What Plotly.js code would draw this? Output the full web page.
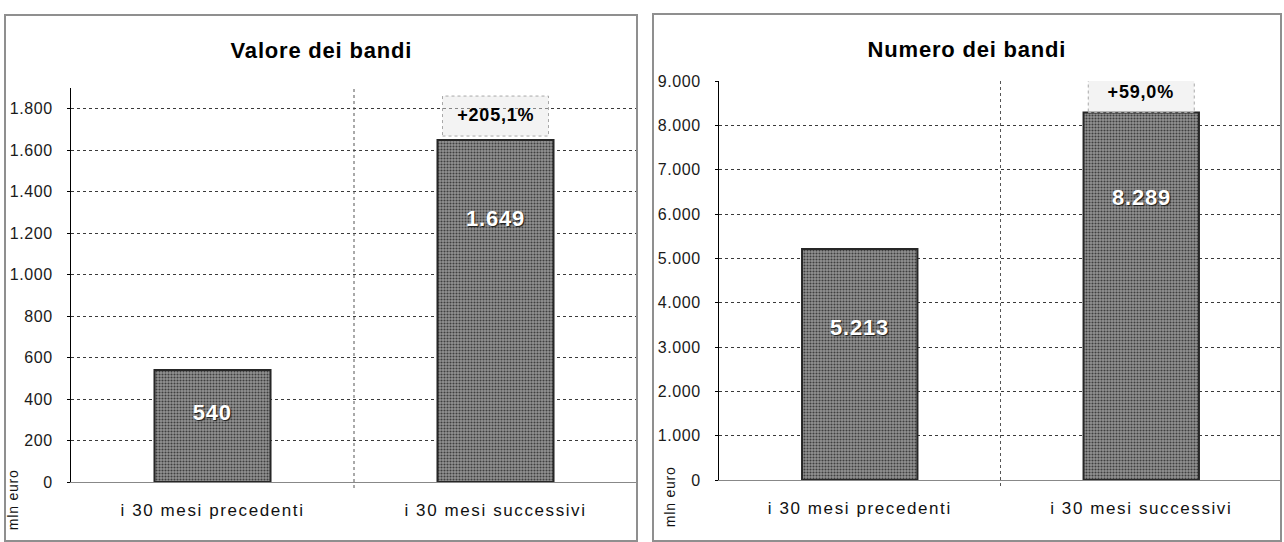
<!DOCTYPE html>
<html>
<head>
<meta charset="utf-8">
<script src="https://cdn.plot.ly/plotly-3.0.1.min.js"></script>
<style>
  html, body { margin: 0; padding: 0; background: #ffffff; }
  #chart { width: 1284px; height: 542px; }
  #chart .xtick text, #chart .x2tick text { letter-spacing: 1.6px; }
  #chart .ytick text, #chart .y2tick text { letter-spacing: 0.6px; }
  #chart .annotation-text { letter-spacing: 0.8px; }
</style>
</head>
<body>
<div id="chart"></div>
<script>
// ---- data ----
const categories = ['i 30 mesi precedenti', 'i 30 mesi successivi'];
const valoreValues = [540, 1649];          // mln euro
const numeroValues = [5213, 8289];         // numero bandi
const valoreChange = '+205,1%';
const numeroChange = '+59,0%';
const valoreTicks = [0, 200, 400, 600, 800, 1000, 1200, 1400, 1600, 1800];
const numeroTicks = [0, 1000, 2000, 3000, 4000, 5000, 6000, 7000, 8000, 9000];
const panelTitles = ['Valore dei bandi', 'Numero dei bandi'];
const unitLabel = 'mln euro';

// ---- layout helpers ----
const W = 1284, H = 542;
const px = v => v / W;
const py = v => 1 - v / H;
const fmt = v => Math.round(v).toString().replace(/\B(?=(\d{3})+(?!\d))/g, '.');
const FONT = 'Arial, Liberation Sans, sans-serif';

const barMarker = {
  color: '#858585',
  pattern: { shape: '.', fgcolor: '#3f3f3f', bgcolor: '#939393', size: 3, solidity: 0.4, fillmode: 'replace' },
  line: { color: '#262626', width: 2 }
};

const traces = [
  { type: 'bar', x: categories, y: valoreValues, width: 0.41, marker: barMarker,
    xaxis: 'x', yaxis: 'y', hoverinfo: 'x+y', showlegend: false },
  { type: 'bar', x: categories, y: numeroValues, width: 0.41, marker: barMarker,
    xaxis: 'x2', yaxis: 'y2', hoverinfo: 'x+y', showlegend: false }
];

const yCommon = {
  showline: true, linecolor: '#000', linewidth: 1,
  ticks: 'outside', ticklen: 3, tickcolor: '#000',
  showgrid: true, gridcolor: '#3a3a3a', griddash: 'dot', gridwidth: 1,
  zeroline: false,
  tickfont: { family: FONT, size: 16, color: '#1a1a1a' },
  ticklabelstandoff: 11,
  fixedrange: true
};
const xCommon = {
  type: 'category', range: [-0.5, 1.5],
  showline: true, linecolor: '#888', linewidth: 1,
  showgrid: false, ticks: '', zeroline: false,
  tickfont: { family: FONT, size: 17, color: '#111' },
  ticklabelstandoff: 13,
  fixedrange: true
};

// percent-change box (pixel-sized, anchored at bar top)
const boxShape = (xr, yr, xa, ya, y0, y1) => ({
  type: 'rect', xref: xr, yref: yr, xsizemode: 'pixel', ysizemode: 'pixel',
  xanchor: xa, yanchor: ya, x0: -53, x1: 53, y0: y0, y1: y1,
  fillcolor: 'rgba(228,228,228,0.45)', line: { color: '#a8a8a8', width: 1, dash: 'dot' }, layer: 'above'
});

const layout = {
  width: W, height: H,
  margin: { l: 0, r: 0, t: 0, b: 0 },
  paper_bgcolor: '#ffffff', plot_bgcolor: 'rgba(0,0,0,0)',
  separators: ',.',
  xaxis: Object.assign({}, xCommon, { domain: [px(71), px(637)], anchor: 'y' }),
  yaxis: Object.assign({}, yCommon, { domain: [py(482), py(88)], range: [0, 1900], anchor: 'x',
    tickvals: valoreTicks, ticktext: valoreTicks.map(fmt) }),
  xaxis2: Object.assign({}, xCommon, { domain: [px(719), px(1282)], anchor: 'y2' }),
  yaxis2: Object.assign({}, yCommon, { domain: [py(480), py(81)], range: [0, 9000], anchor: 'x2',
    tickvals: numeroTicks, ticktext: numeroTicks.map(fmt) }),
  shapes: [
    // panel frames
    { type: 'rect', xref: 'paper', yref: 'paper', x0: px(5), x1: px(637), y0: py(541), y1: py(15),
      line: { color: '#8f8f8f', width: 2 } },
    { type: 'rect', xref: 'paper', yref: 'paper', x0: px(653), x1: px(1281), y0: py(541), y1: py(14),
      line: { color: '#8f8f8f', width: 2 } },
    // dotted category separators
    { type: 'line', xref: 'x', yref: 'paper', x0: 0.5, x1: 0.5, y0: py(488), y1: py(88),
      line: { color: '#555', width: 1, dash: 'dot' } },
    { type: 'line', xref: 'x2', yref: 'paper', x0: 0.5, x1: 0.5, y0: py(486), y1: py(81),
      line: { color: '#555', width: 1, dash: 'dot' } },
    boxShape('x', 'y', 1, valoreValues[1], 4, 44),
    boxShape('x2', 'y2', 1, numeroValues[1], 0, 40)
  ],
  annotations: [
    { xref: 'paper', yref: 'paper', x: px(321), y: py(51), xanchor: 'center', yanchor: 'middle',
      text: '<b>' + panelTitles[0] + '</b>',
      showarrow: false, font: { family: FONT, size: 22, color: '#000' } },
    { xref: 'paper', yref: 'paper', x: px(967), y: py(49), xanchor: 'center', yanchor: 'middle',
      text: '<b>' + panelTitles[1] + '</b>',
      showarrow: false, font: { family: FONT, size: 22, color: '#000' } },
    { xref: 'paper', yref: 'paper', x: px(13), y: py(500), xanchor: 'center', yanchor: 'middle',
      text: unitLabel, textangle: -90,
      showarrow: false, font: { family: FONT, size: 14, color: '#111' } },
    { xref: 'paper', yref: 'paper', x: px(670), y: py(497), xanchor: 'center', yanchor: 'middle',
      text: unitLabel, textangle: -90,
      showarrow: false, font: { family: FONT, size: 14, color: '#111' } },
    // value labels inside bars
    { xref: 'x', yref: 'y', x: categories[0], y: valoreValues[0] * 0.62, xanchor: 'center',
      text: '<b>' + fmt(valoreValues[0]) + '</b>',
      showarrow: false, font: { family: FONT, size: 22, color: '#fff', shadow: '1px 1px 1px #1a1a1a' } },
    { xref: 'x', yref: 'y', x: categories[1], y: valoreValues[1] * 0.77, xanchor: 'center',
      text: '<b>' + fmt(valoreValues[1]) + '</b>',
      showarrow: false, font: { family: FONT, size: 22, color: '#fff', shadow: '1px 1px 1px #1a1a1a' } },
    { xref: 'x2', yref: 'y2', x: categories[0], y: numeroValues[0] * 0.66, xanchor: 'center',
      text: '<b>' + fmt(numeroValues[0]) + '</b>',
      showarrow: false, font: { family: FONT, size: 22, color: '#fff', shadow: '1px 1px 1px #1a1a1a' } },
    { xref: 'x2', yref: 'y2', x: categories[1], y: numeroValues[1] * 0.77, xanchor: 'center',
      text: '<b>' + fmt(numeroValues[1]) + '</b>',
      showarrow: false, font: { family: FONT, size: 22, color: '#fff', shadow: '1px 1px 1px #1a1a1a' } },
    // percent change labels
    { xref: 'x', yref: 'y', x: categories[1], y: valoreValues[1], xanchor: 'center', yanchor: 'bottom', yshift: 13,
      text: '<b>' + valoreChange + '</b>', showarrow: false,
      font: { family: FONT, size: 18, color: '#000' } },
    { xref: 'x2', yref: 'y2', x: categories[1], y: numeroValues[1], xanchor: 'center', yanchor: 'bottom', yshift: 9,
      text: '<b>' + numeroChange + '</b>', showarrow: false,
      font: { family: FONT, size: 18, color: '#000' } }
  ]
};

Plotly.newPlot('chart', traces, layout, { displayModeBar: false, staticPlot: true });
</script>
</body>
</html>
